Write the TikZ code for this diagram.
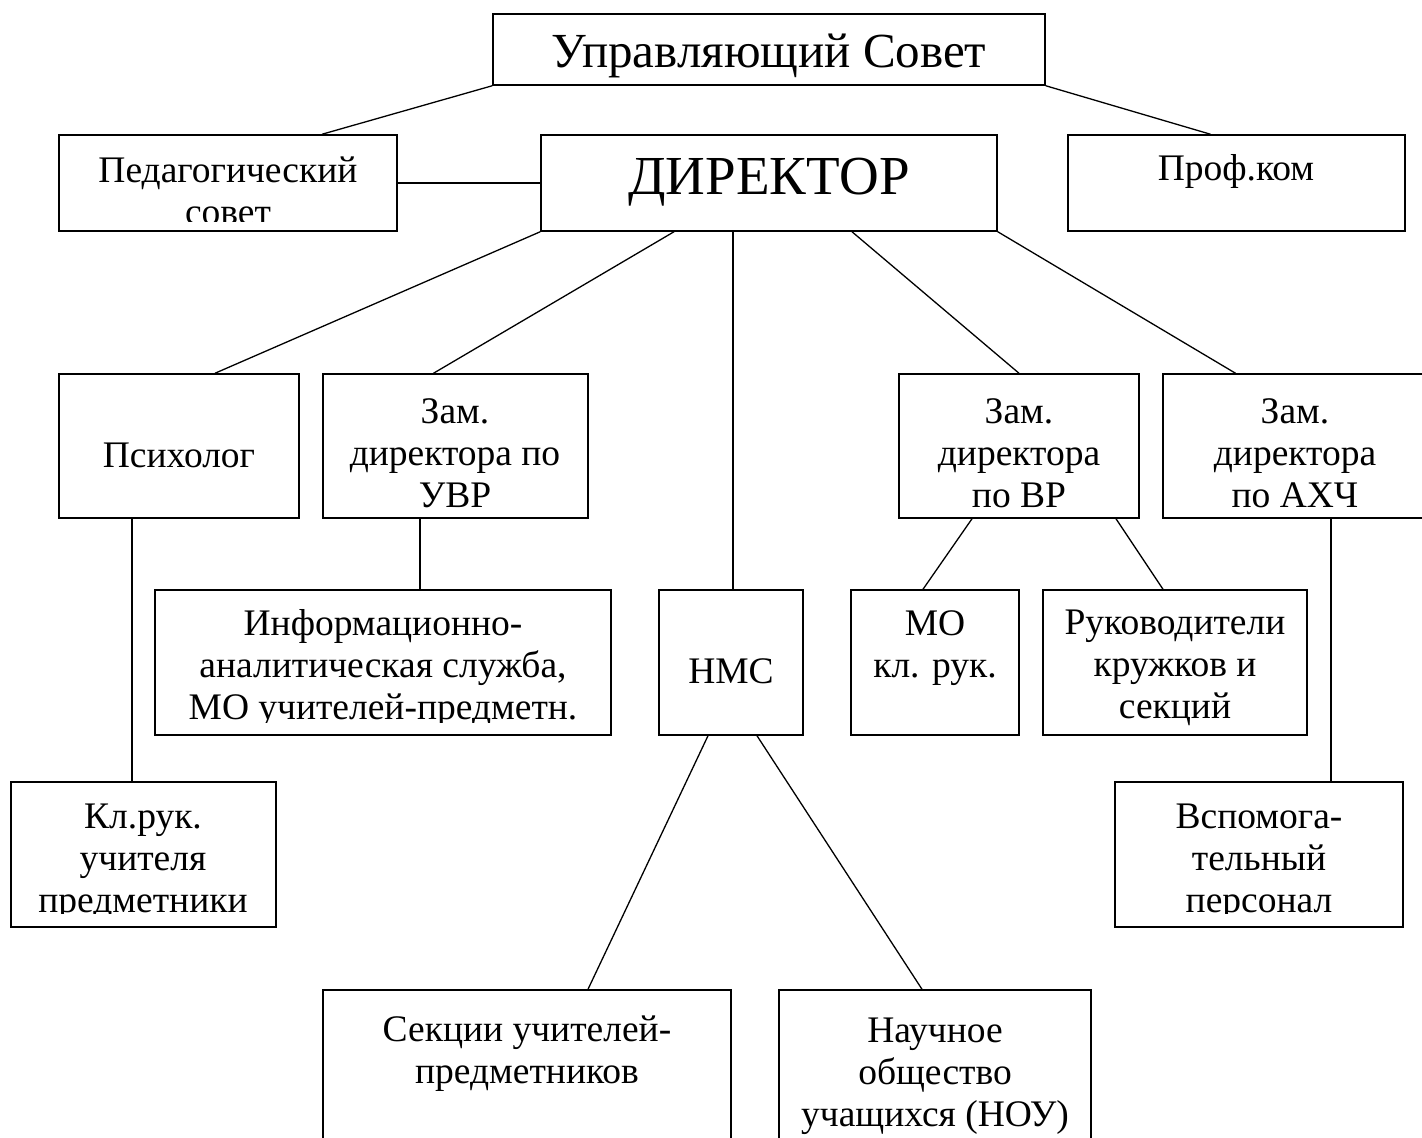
\documentclass[tikz,border=0pt]{standalone}
\usepackage{fontspec}
\setmainfont{Liberation Serif}
\begin{document}
\begin{tikzpicture}[x=1pt,y=-1pt,
  box/.style={draw,line width=1.5pt,rectangle,inner sep=0pt},
  link/.style={line width=1.3pt},
  txt/.style={align=center,inner sep=0pt,font=\fontsize{37.5}{42}\selectfont}]
\clip (0,0) rectangle (1422,1138);
\fill[white] (0,0) rectangle (1422,1138);
% boxes
\node[box,minimum width=552pt,minimum height=71pt] (us) at (769,49.5) {};
\node[box,minimum width=338pt,minimum height=96pt] (ped) at (228,183) {};
\node[box,minimum width=456pt,minimum height=96pt] (dir) at (769,183) {};
\node[box,minimum width=337pt,minimum height=96pt] (prof) at (1236.5,183) {};
\node[box,minimum width=240pt,minimum height=144pt] (psy) at (179,446) {};
\node[box,minimum width=265pt,minimum height=144pt] (uvr) at (455.5,446) {};
\node[box,minimum width=240pt,minimum height=144pt] (vr) at (1019,446) {};
\node[box,minimum width=267pt,minimum height=144pt] (axc) at (1296.5,446) {};
\node[box,minimum width=456pt,minimum height=145pt] (inf) at (383,662.5) {};
\node[box,minimum width=144pt,minimum height=145pt] (nmc) at (731,662.5) {};
\node[box,minimum width=168pt,minimum height=145pt] (mo) at (935,662.5) {};
\node[box,minimum width=264pt,minimum height=145pt] (ruk) at (1175,662.5) {};
\node[box,minimum width=265pt,minimum height=145pt] (kl) at (143.5,854.5) {};
\node[box,minimum width=288pt,minimum height=145pt] (vsp) at (1259,854.5) {};
\node[box,minimum width=408pt,minimum height=170pt] (sek) at (527,1075) {};
\node[box,minimum width=312pt,minimum height=170pt] (nou) at (935,1075) {};
% connectors
\draw[link] (us.south west) -- ([xshift=94pt]ped.north);
\draw[link] (us.south east) -- ([xshift=-26pt]prof.north);
\draw[link] (ped.east) -- (dir.west);
\draw[link] (dir.south west) -- ([xshift=36pt]psy.north);
\draw[link] ([xshift=-95pt]dir.south) -- ([xshift=-22pt]uvr.north);
\draw[link] ([xshift=-36pt]dir.south) -- ([xshift=2pt]nmc.north);
\draw[link] ([xshift=83pt]dir.south) -- (vr.north);
\draw[link] (dir.south east) -- ([xshift=-61pt]axc.north);
\draw[link] ([xshift=-47pt]psy.south) -- ([xshift=-11.5pt]kl.north);
\draw[link] ([xshift=-35.5pt]uvr.south) -- ([xshift=37pt]inf.north);
\draw[link] ([xshift=-47pt]vr.south) -- ([xshift=-12pt]mo.north);
\draw[link] ([xshift=97pt]vr.south) -- ([xshift=-12pt]ruk.north);
\draw[link] ([xshift=34.5pt]axc.south) -- ([xshift=72pt]vsp.north);
\draw[link] ([xshift=-23pt]nmc.south) -- ([xshift=61pt]sek.north);
\draw[link] ([xshift=26pt]nmc.south) -- ([xshift=-13pt]nou.north);
% texts
\node[txt,font=\fontsize{49}{55}\selectfont] (tus) at (769,56) {Управляющий Совет};
\node[txt,font=\fontsize{55}{62}\selectfont] (tdir) at (769,182) {ДИРЕКТОР};
\begin{scope}
\clip (59,135) rectangle (397,221);
\node[txt] (tped) at (228,191) {Педагогический\\совет};
\end{scope}
\node[txt] (tprof) at (1236,171) {Проф.ком};
\node[txt] (tpsy) at (179,455) {Психолог};
\node[txt] (tuvr) at (455,453) {Зам.\\директора по\\УВР};
\node[txt] (tvr) at (1019,453) {Зам.\\директора\\по ВР};
\node[txt] (taxc) at (1295,453) {Зам.\\директора\\по АХЧ};
\begin{scope}
\clip (155,590) rectangle (611,722);
\node[txt] (tinf) at (383,669) {Информационно-\\аналитическая служба,\\МО учителей-предметн.};
\end{scope}
\node[txt] (tnmc) at (731,671) {НМС};
\node[txt] (tmo) at (935,648) {МО\\кл. рук.};
\node[txt] (truk) at (1175,668) {Руководители\\кружков и\\секций};
\begin{scope}
\clip (11,782) rectangle (276,913);
\node[txt] (tkl) at (143,862) {Кл.рук.\\учителя\\предметники};
\end{scope}
\begin{scope}
\clip (1115,782) rectangle (1403,913);
\node[txt] (tvsp) at (1259,862) {Вспомога-\\тельный\\персонал};
\end{scope}
\node[txt] (tsek) at (527,1054) {Секции учителей-\\предметников};
\node[txt] (tnou) at (935,1076) {Научное\\общество\\учащихся (НОУ)};
\end{tikzpicture}
\end{document}
